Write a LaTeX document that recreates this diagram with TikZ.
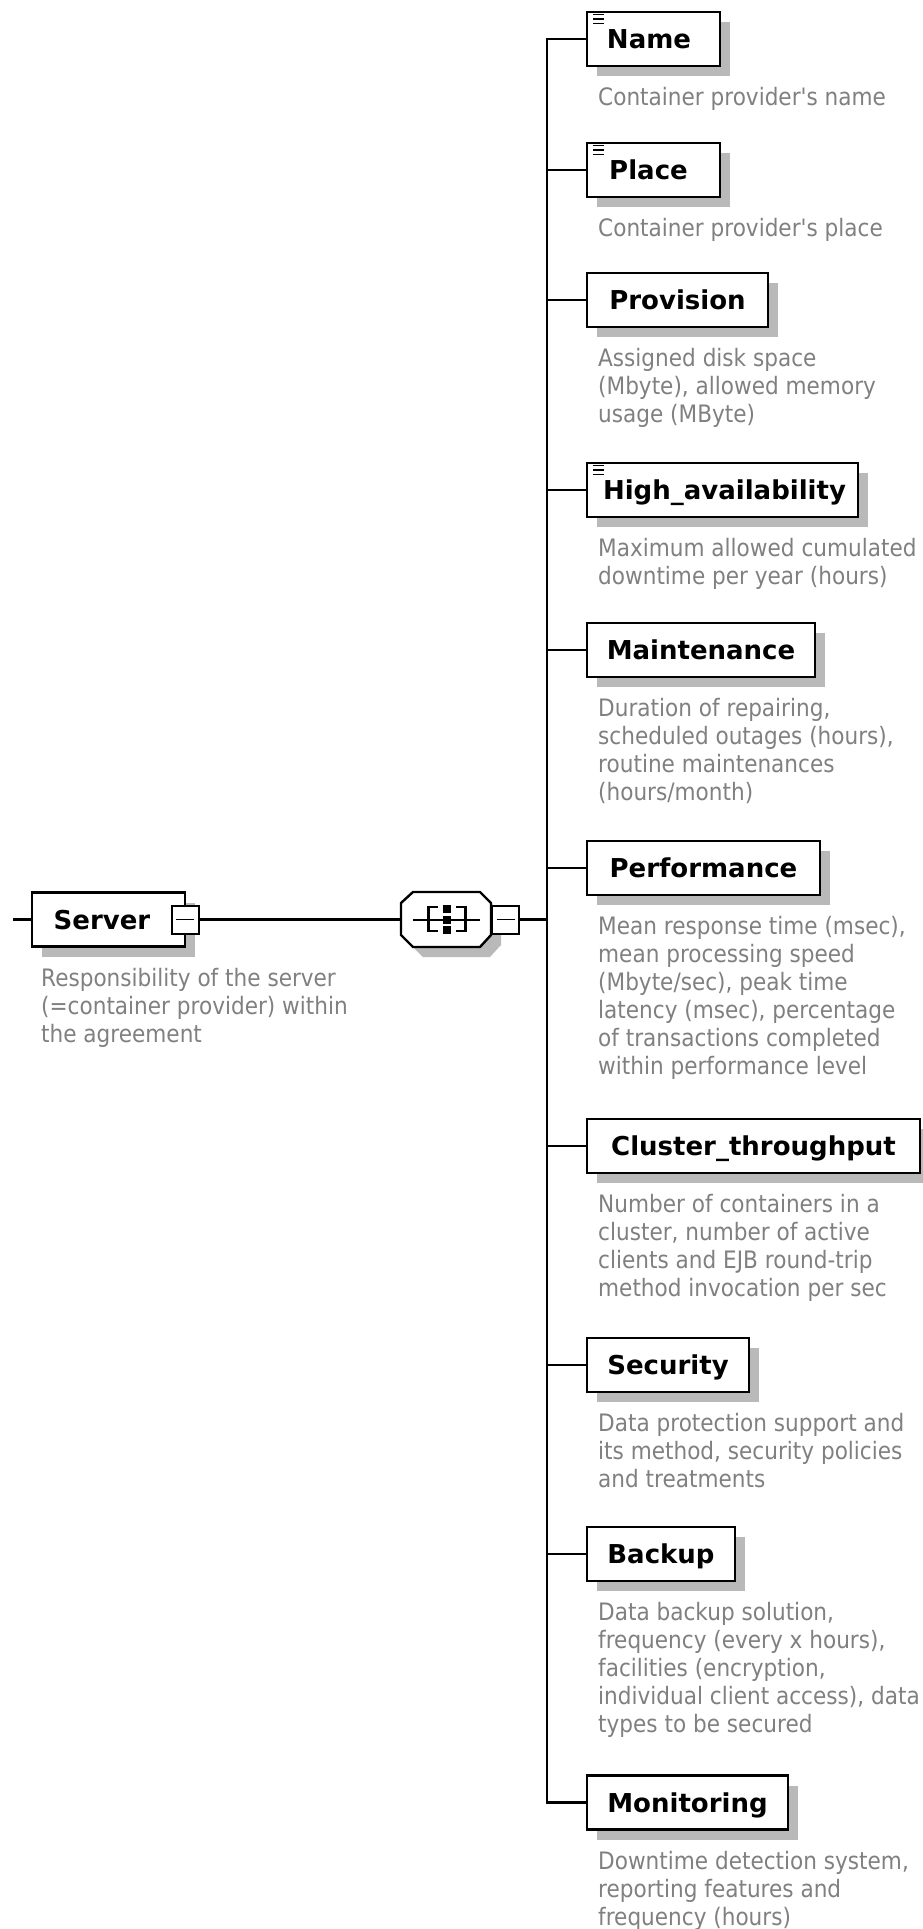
\documentclass[tikz,border=0pt]{standalone}
\usepackage{fontspec}
\usetikzlibrary{shadows}
\newfontfamily\descfont[FakeStretch=0.9]{DejaVu Sans}
\newfontfamily\labelfont{DejaVu Sans}
\definecolor{shadowgray}{HTML}{B9B9B9}
\definecolor{desctext}{HTML}{808080}
\newcommand\desclines[1]{\begin{tabular}[t]{@{}l@{}}#1\end{tabular}}

\begin{document}
\begin{tikzpicture}[x=1pt,y=-1pt,
  conn/.style={line width=2.2pt},
  boxshadow/.style={drop shadow={shadow xshift=10pt,shadow yshift=-10pt,fill=shadowgray,opacity=1}},
  elbox/.style={draw,line width=2.6pt,fill=white,anchor=west,minimum height=54pt,
    inner sep=0pt,outer sep=0pt,text height=19pt,text depth=0pt,boxshadow,
    font=\labelfont\bfseries\fontsize{26}{30}\selectfont},
  textshift/.style={execute at begin node=\hspace*{#1}},
  toggle/.style={draw,line width=2pt,fill=white,minimum width=27pt,minimum height=28pt,
    inner sep=0pt,outer sep=0pt,
    path picture={\draw[line width=1.8pt]
      ([xshift=-9pt]path picture bounding box.center) --
      ([xshift=9pt]path picture bounding box.center);}},
  desc/.style={anchor=base west,inner sep=0pt,text=desctext,
    font=\descfont\fontsize{24}{28}\selectfont},
  iconline/.style={line width=1.8pt}]

\useasboundingbox (0,0) rectangle (923,1929);
\fill[white] (0,0) rectangle (923,1929);

% ---- root element -------------------------------------------------
\coordinate (stub) at (13,919.5);
\node[elbox,minimum width=153pt,textshift=-13pt] (server) at (32,919.5) {Server};
\node[toggle] (srvtoggle) at (server.east) {};
\node[desc] (serverdesc) at (41,986) {\desclines{Responsibility of the server\\
  (=container provider) within\\ the agreement}};

% ---- sequence compositor ------------------------------------------
\fill[shadowgray] (411,913) -- (423,902) -- (490,902) -- (501,913) -- (501,945)
  -- (490,957) -- (423,957) -- (411,945) -- cycle;
\filldraw[fill=white,draw=black,line width=2.4pt] (401,903) -- (413,892) -- (480,892)
  -- (491,903) -- (491,935) -- (480,947) -- (413,947) -- (401,935) -- cycle;
\node[minimum width=90pt,minimum height=55pt,inner sep=0pt,outer sep=0pt] (seq) at (446,919.5) {};
\draw[line width=2pt] (413,919.5) -- (480,919.5);
\draw[line width=2.2pt] (438,907) -- (428.5,907) -- (428.5,931) -- (438,931);
\draw[line width=2.2pt] (456,907) -- (465.5,907) -- (465.5,931) -- (456,931);
\fill (443,905) rectangle (450.5,913);
\fill (443,915.5) rectangle (450.5,923.5);
\fill (443,926) rectangle (450.5,934);
\node[toggle] (seqtoggle) at (505.5,919.5) {};

\coordinate (bus) at (547,919.5);

% ---- child elements -----------------------------------------------
\node[elbox,minimum width=133pt,textshift=-9pt] (name) at (587,39) {Name};
\node[elbox,minimum width=133pt,textshift=-10pt] (place) at (587,170) {Place};
\node[elbox,minimum width=181pt] (provision) at (587,300) {Provision};
\node[elbox,minimum width=271pt,textshift=4pt] (ha) at (587,490) {High\_availability};
\node[elbox,minimum width=228pt] (maint) at (587,650) {Maintenance};
\node[elbox,minimum width=233pt] (perf) at (587,868) {Performance};
\node[elbox,minimum width=333pt] (cluster) at (587,1146) {Cluster\_throughput};
\node[elbox,minimum width=162pt] (security) at (587,1365) {Security};
\node[elbox,minimum width=148pt] (backup) at (587,1554) {Backup};
\node[elbox,minimum width=201pt] (monitor) at (587,1802.5) {Monitoring};

% simple-content markers
\foreach \n in {name,place,ha}{
  \foreach \dy in {2.5,7,11.5}
    \draw[iconline] ([xshift=6pt,yshift=-\dy pt]\n.north west) -- ++(11pt,0);
}

% ---- annotations --------------------------------------------------
\node[desc] (namedesc) at (598,105.5) {\desclines{Container provider's name}};
\node[desc] (placedesc) at (598,236.5) {\desclines{Container provider's place}};
\node[desc] (provdesc) at (598,366.5) {\desclines{Assigned disk space\\
  (Mbyte), allowed memory\\ usage (MByte)}};
\node[desc] (hadesc) at (598,556.5) {\desclines{Maximum allowed cumulated\\
  downtime per year (hours)}};
\node[desc] (maintdesc) at (598,716.5) {\desclines{Duration of repairing,\\
  scheduled outages (hours),\\ routine maintenances\\ (hours/month)}};
\node[desc] (perfdesc) at (598,934.5) {\desclines{Mean response time (msec),\\
  mean processing speed\\ (Mbyte/sec), peak time\\ latency (msec), percentage\\
  of transactions completed\\ within performance level}};
\node[desc] (clusterdesc) at (598,1212.5) {\desclines{Number of containers in a\\
  cluster, number of active\\ clients and EJB round-trip\\ method invocation per sec}};
\node[desc] (secdesc) at (598,1431.5) {\desclines{Data protection support and\\
  its method, security policies\\ and treatments}};
\node[desc] (backupdesc) at (598,1620.5) {\desclines{Data backup solution,\\
  frequency (every x hours),\\ facilities (encryption,\\
  individual client access), data\\ types to be secured}};
\node[desc] (mondesc) at (598,1869) {\desclines{Downtime detection system,\\
  reporting features and\\ frequency (hours)}};

% ---- connectors ---------------------------------------------------
\draw[conn] (stub) -- (server.west);
\draw[conn] (srvtoggle.east) -- (seq.west);
\draw[conn] (seqtoggle.east) -- (bus);
\foreach \n in {name,place,provision,ha,maint,perf,cluster,security,backup,monitor}
  \draw[conn] (bus) |- (\n.west);
\end{tikzpicture}
\end{document}
